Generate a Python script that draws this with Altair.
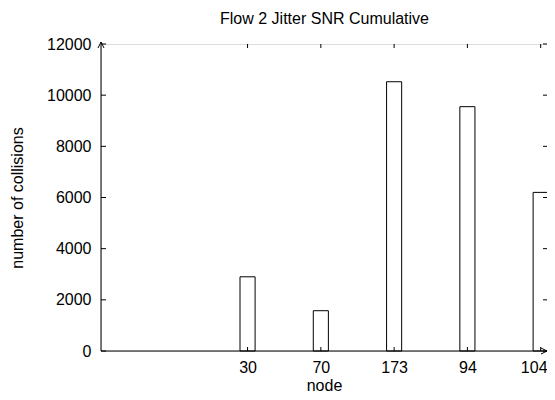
import altair as alt
import pandas as pd

# ---- data ----
nodes = ["30", "70", "173", "94", "104"]
collisions = [2900, 1575, 10525, 9550, 6200]
y_ticks = [0, 2000, 4000, 6000, 8000, 10000, 12000]

FIRST = 2          # first category sits at x position 2 (gnuplot-style)
XMAX = 6.1
YMAX = 12000
HALF = 0.103       # half bar width in x units
FONT = "Liberation Sans"
FS = 16

pos = [FIRST + i for i in range(len(nodes))]
bars = pd.DataFrame({"node": nodes, "collisions": collisions, "pos": pos})
bars["x0"] = bars["pos"] - HALF
bars["x1"] = bars["pos"] + HALF

xscale = alt.Scale(domain=[0, XMAX], nice=False, zero=False)
yscale = alt.Scale(domain=[0, YMAX], nice=False)

label_list = [""] * FIRST + nodes
label_expr = "[" + ",".join(f"'{l}'" for l in label_list) + "][datum.value]"
last_pos = pos[-1]

bar_layer = alt.Chart(bars).mark_bar(fill="white", stroke="black", strokeWidth=1).encode(
    x=alt.X("x0:Q", scale=xscale,
            axis=alt.Axis(values=pos, labelExpr=label_expr, grid=False, domain=False,
                          ticks=False, tickSize=0, labelPadding=8, labelFontSize=FS,
                          labelFont=FONT, labelColor="black",
                          labelOffset={"condition": {"test": f"datum.value === {last_pos}",
                                                     "value": -7}, "value": 0},
                          title="node",
                          titleFont=FONT, titleFontSize=FS, titleFontWeight="normal",
                          titleX=223, titleY=39, titleBaseline="alphabetic",
                          titleColor="black")),
    x2="x1:Q",
    y=alt.Y("collisions:Q", scale=yscale,
            axis=alt.Axis(values=y_ticks, format="d", grid=False, domain=False, ticks=False,
                          tickSize=0, labelPadding=10, labelFontSize=FS, labelFont=FONT,
                          labelColor="black", title="number of collisions",
                          titleFont=FONT, titleFontSize=FS, titleFontWeight="normal",
                          titleAngle=270, titleX=-83.5, titleY=153.5,
                          titleBaseline="middle", titleAlign="center",
                          titleColor="black")),
    y2=alt.datum(0),
)

ydf = pd.DataFrame({"v": y_ticks})
xdf = pd.DataFrame({"pos": pos})
one = pd.DataFrame({"a": [0]})

left_ticks = alt.Chart(ydf).mark_rule(color="black", x2Offset=5).encode(
    x=alt.datum(0), x2=alt.datum(0), y="v:Q")
right_ticks = alt.Chart(ydf).mark_rule(color="black", x2Offset=-5).encode(
    x=alt.datum(XMAX), x2=alt.datum(XMAX), y="v:Q")
top_ticks = alt.Chart(xdf).mark_rule(color="black", y2Offset=4).encode(
    x="pos:Q", y=alt.datum(YMAX), y2=alt.datum(YMAX))
bottom_ticks = alt.Chart(xdf).mark_rule(color="black", y2Offset=-4).encode(
    x="pos:Q", y=alt.datum(0), y2=alt.datum(0))

left_line = alt.Chart(one).mark_rule(color="black", y2Offset=-2).encode(
    x=alt.datum(0), y=alt.datum(0), y2=alt.datum(YMAX))
bottom_line = alt.Chart(one).mark_rule(color="black").encode(
    x=alt.datum(0), x2=alt.datum(XMAX), y=alt.datum(0))

up_arrow = alt.Chart(one).mark_point(shape="M-1,1L0,-1L1,1", filled=False, color="black",
                                     strokeWidth=1, size=36, opacity=1, yOffset=1).encode(
    x=alt.datum(0), y=alt.datum(YMAX))
right_arrow = alt.Chart(one).mark_point(shape="M-1,-1L1,0L-1,1", filled=False, color="black",
                                        strokeWidth=1, size=36, opacity=1, xOffset=-4).encode(
    x=alt.datum(XMAX), y=alt.datum(0))

chart = alt.layer(
    bar_layer, left_ticks, right_ticks, top_ticks, bottom_ticks,
    left_line, bottom_line, up_arrow, right_arrow
).properties(
    width=447, height=307,
    title=alt.TitleParams("Flow 2 Jitter SNR Cumulative", font=FONT, fontSize=FS,
                          fontWeight="normal", anchor="middle", frame="group",
                          color="black", offset=-4, baseline="alphabetic"),
    autosize=alt.AutoSizeParams(type="none"),
    padding={"left": 93, "top": 36, "right": -1, "bottom": 41},
).configure_view(stroke=None).configure(background="white")

chart.save("out.html", embed_options={"renderer": "svg", "actions": False})
